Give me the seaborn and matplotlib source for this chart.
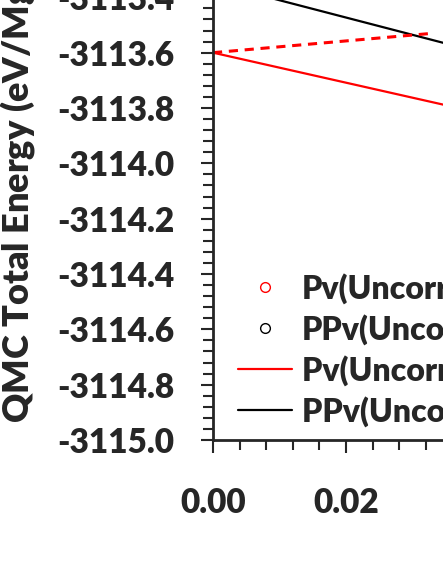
import matplotlib
matplotlib.use("Agg")
import matplotlib.pyplot as plt
from matplotlib.lines import Line2D
from matplotlib.ticker import MultipleLocator, FormatStrFormatter
import pandas as pd
import seaborn as sns

x_fit = [0.0, 0.04]
pv_fit = [-3113.600, -3113.817]
ppv_fit = [-3113.348, -3113.598]
x_dash = [0.0, 0.033]
pv_dash = [-3113.600, -3113.530]

legend_labels = ["Pv(Uncorrected)", "PPv(Uncorrected)",
                 "Pv(Uncorrected) fit", "PPv(Uncorrected) fit"]
ylabel = "QMC Total Energy (eV/MgSiO$_3$)"

sns.set_style("ticks")
plt.rcParams['font.family'] = ['Lato', 'DejaVu Sans']
plt.rcParams['font.weight'] = 'heavy'
plt.rcParams['axes.unicode_minus'] = False
plt.rcParams['axes.linewidth'] = 2

fig = plt.figure(figsize=(4.43, 5.73), dpi=100)
# axes runs past the top and right edge: only the lower left corner is shown
ax = fig.add_axes([213 / 443, 133 / 573, 665 / 443, 498 / 573])

df_pv = pd.DataFrame({'x': x_fit, 'E': pv_fit})
df_ppv = pd.DataFrame({'x': x_fit, 'E': ppv_fit})
df_dash = pd.DataFrame({'x': x_dash, 'E': pv_dash})
sns.lineplot(data=df_pv, x='x', y='E', color='red', lw=1.6, ax=ax)
sns.lineplot(data=df_ppv, x='x', y='E', color='black', lw=1.6, ax=ax)
sns.lineplot(data=df_dash, x='x', y='E', color='red', lw=2.2, ax=ax,
             linestyle=(0, (3, 2.2)))

ax.set_xlim(0, 0.1)
ax.set_ylim(-3115.0, -3113.2)
ax.set_xlabel('')
ax.set_ylabel('')
ax.xaxis.set_major_locator(MultipleLocator(0.02))
ax.xaxis.set_minor_locator(MultipleLocator(0.004))
ax.yaxis.set_major_locator(MultipleLocator(0.2))
ax.yaxis.set_minor_locator(MultipleLocator(0.04))
ax.xaxis.set_major_formatter(FormatStrFormatter('%.2f'))
ax.yaxis.set_major_formatter(FormatStrFormatter('%.1f'))
ax.tick_params(which='major', direction='out', length=9, width=1.5, labelsize=24)
ax.tick_params(which='minor', direction='out', length=7, width=1.5)
ax.tick_params(axis='y', which='major', pad=19)
ax.tick_params(axis='x', which='major', pad=25)
for lab in ax.get_xticklabels() + ax.get_yticklabels():
    lab.set_fontweight('heavy')

fig.text(18 / 443, 150 / 573, ylabel, rotation=90, ha='center', va='bottom',
         fontsize=26, fontweight='heavy')

handles = [
    Line2D([], [], marker='o', ls='none', mfc='none', mec='red', ms=7, mew=1),
    Line2D([], [], marker='o', ls='none', mfc='none', mec='black', ms=7, mew=1),
    Line2D([], [], color='red', lw=1.6),
    Line2D([], [], color='black', lw=1.6),
]
fig.legend(handles, legend_labels, loc='upper left',
           bbox_to_anchor=(238 / 443, 1 - 273 / 573), frameon=False,
           borderpad=0, borderaxespad=0, handlelength=1.7, handletextpad=0.3,
           labelspacing=0.31, prop={'size': 23, 'weight': 'heavy'})

fig.savefig('out.png', dpi=100)
